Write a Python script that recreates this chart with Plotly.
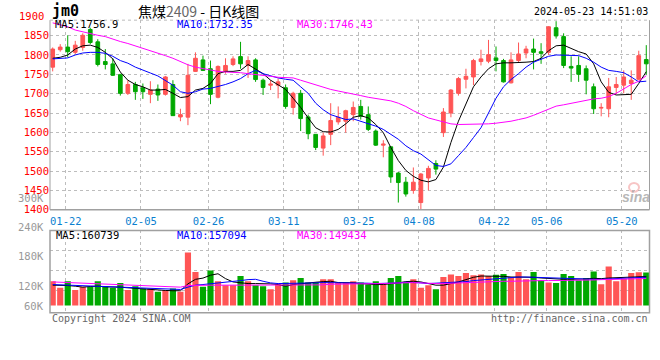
import plotly.graph_objects as go

dates = ["01-18","01-19","01-22","01-23","01-24","01-25","01-26","01-29","01-30","01-31",
         "02-01","02-02","02-05","02-06","02-07","02-08","02-19","02-20","02-21","02-22","02-23",
         "02-26","02-27","02-28","02-29","03-01","03-04","03-05","03-06","03-07","03-08",
         "03-11","03-12","03-13","03-14","03-15","03-18","03-19","03-20","03-21","03-22",
         "03-25","03-26","03-27","03-28","03-29","04-01","04-02","04-03","04-08","04-09",
         "04-10","04-11","04-12","04-15","04-16","04-17","04-18","04-19","04-22","04-23",
         "04-24","04-25","04-26","04-29","04-30","05-06","05-07","05-08","05-09","05-10",
         "05-13","05-14","05-15","05-16","05-17","05-20","05-21","05-22","05-23"]

tick_dates = ["01-22","02-05","02-26","03-11","03-25","04-08","04-22","05-06","05-20"]

opens = [1768.6,1813.6,1820.4,1806.8,1819.5,1866.0,1834.0,1783.0,1777.0,1749.0,
         1700.9,1723.7,1715.3,1698.3,1711.9,1698.3,1723.7,1639.8,1639.3,1757.6,
         1787.3,1764.4,1690.7,1757.6,1775.4,1795.8,1772.9,1787.3,1734.8,1722.0,
         1722.0,1715.3,1664.4,1700.9,1639.8,1594.9,1559.3,1594.9,1627.1,1628.8,
         1645.8,1667.0,1645.8,1603.4,1567.0,1562.7,1494.9,1471.2,1450.0,1418.6,
         1482.1,1519.5,1599.2,1650.0,1700.9,1737.3,1743.2,1783.0,1783.9,1792.4,
         1785.6,1728.0,1785.6,1805.1,1815.3,1808.5,1806.8,1870.4,1847.5,1770.4,
         1772.9,1764.4,1717.8,1662.7,1661.0,1716.1,1722.0,1726.3,1737.3,1788.2]
highs = [1819.5,1828.0,1850.9,1836.5,1856.0,1870.4,1840.7,1815.3,1791.5,1751.7,
         1734.8,1730.5,1726.3,1732.2,1723.7,1745.8,1734.8,1661.0,1777.0,1806.8,
         1798.3,1785.6,1773.0,1791.5,1796.6,1834.0,1796.6,1791.5,1739.0,1734.8,
         1739.0,1723.7,1705.0,1709.3,1645.8,1595.0,1599.2,1675.4,1667.0,1658.5,
         1679.7,1684.0,1667.0,1607.6,1579.7,1562.7,1497.5,1484.8,1509.3,1494.8,
         1513.6,1527.9,1662.7,1711.9,1743.2,1764.4,1789.9,1813.6,1839.0,1822.0,
         1789.9,1806.8,1832.2,1823.7,1842.4,1830.5,1874.6,1887.3,1856.0,1796.6,
         1796.6,1772.9,1726.3,1675.4,1740.7,1743.2,1760.2,1760.2,1811.0,1825.4]
lows = [1757.6,1808.5,1794.0,1802.6,1811.0,1828.0,1770.4,1762.7,1745.8,1695.0,
        1696.6,1684.0,1686.5,1675.4,1681.4,1695.0,1643.0,1628.8,1618.6,1756.0,
        1758.5,1672.9,1688.0,1751.7,1771.2,1764.4,1740.7,1730.5,1696.6,1709.3,
        1688.0,1661.0,1645.8,1603.4,1582.2,1554.2,1539.8,1567.0,1620.0,1599.2,
        1628.8,1633.0,1603.4,1565.0,1535.6,1469.5,1418.6,1433.9,1441.4,1400.8,
        1450.0,1490.7,1588.1,1639.0,1695.0,1713.6,1722.0,1772.9,1778.8,1757.6,
        1728.8,1726.3,1781.4,1791.5,1762.7,1777.1,1800.0,1842.4,1766.1,1730.5,
        1730.5,1698.3,1647.5,1641.5,1639.0,1698.3,1700.9,1684.0,1734.8,1749.2]
closes = [1815.3,1820.4,1808.5,1825.4,1850.9,1832.2,1775.4,1775.4,1747.5,1700.9,
          1723.7,1705.0,1705.0,1709.3,1696.6,1743.2,1643.2,1645.8,1747.5,1791.5,
          1760.2,1698.3,1770.4,1772.9,1789.9,1777.1,1785.6,1736.5,1716.1,1724.6,
          1730.5,1667.0,1700.9,1635.6,1596.6,1561.0,1590.7,1630.5,1639.0,1656.0,
          1664.4,1641.5,1607.6,1567.0,1569.5,1484.8,1470.3,1440.7,1471.2,1492.3,
          1506.8,1505.0,1652.6,1709.3,1739.0,1744.9,1785.6,1789.9,1800.9,1785.6,
          1730.5,1787.3,1802.6,1815.3,1806.8,1804.3,1872.9,1849.2,1772.9,1766.1,
          1750.0,1734.8,1661.0,1664.4,1717.8,1723.7,1743.2,1734.8,1798.3,1777.1]

ma5 = [1791.5,1794.0,1800.0,1815.3,1823.7,1825.4,1819.5,1806.8,1789.9,1756.0,
       1734.8,1723.7,1717.8,1709.3,1709.3,1711.0,1700.9,1690.0,1692.4,1709.3,
       1713.6,1726.3,1751.7,1757.6,1757.6,1760.2,1775.4,1764.4,1751.7,1734.8,
       1723.7,1711.0,1688.2,1664.4,1637.3,1611.9,1601.7,1600.9,1607.6,1622.0,
       1639.0,1643.2,1637.3,1620.3,1599.2,1561.0,1527.1,1501.7,1486.4,1476.3,
       1472.0,1478.0,1510.2,1573.7,1628.8,1675.4,1717.8,1743.2,1764.4,1777.1,
       1779.7,1779.7,1779.7,1781.4,1783.0,1791.5,1811.0,1823.7,1825.4,1817.0,
       1808.5,1802.6,1777.1,1730.5,1703.4,1696.6,1696.6,1698.3,1726.3,1756.9]
ma10 = [1789.9,1790.7,1792.4,1800.0,1805.1,1806.8,1806.8,1804.3,1796.6,1785.6,
        1778.8,1768.6,1760.2,1753.4,1745.8,1734.8,1722.0,1705.0,1700.9,1705.0,
        1711.9,1713.6,1717.8,1723.7,1730.5,1739.0,1751.7,1760.2,1751.7,1745.8,
        1740.7,1737.3,1734.8,1717.8,1700.9,1675.4,1658.5,1645.8,1639.0,1633.1,
        1634.8,1628.8,1622.0,1616.1,1607.6,1594.9,1582.2,1565.3,1552.6,1544.0,
        1528.8,1514.4,1511.9,1518.6,1539.8,1561.0,1586.5,1611.9,1650.0,1688.2,
        1717.8,1736.5,1751.7,1768.6,1781.4,1789.9,1796.6,1800.0,1800.0,1800.0,
        1798.3,1791.5,1781.4,1768.6,1760.2,1757.6,1754.2,1743.2,1730.5,1732.35]
ma30 = [1883.0,1878.8,1872.9,1864.4,1859.3,1855.1,1850.9,1847.5,1840.7,1834.8,
        1829.7,1823.7,1817.0,1811.0,1804.3,1798.3,1791.5,1783.0,1774.6,1768.6,
        1764.4,1760.2,1757.6,1756.0,1756.0,1754.2,1751.7,1750.0,1747.5,1744.9,
        1742.4,1741.5,1740.7,1734.8,1728.8,1722.0,1716.1,1711.0,1706.8,1703.4,
        1699.2,1695.0,1690.7,1688.2,1685.6,1681.4,1675.4,1667.0,1656.0,1645.8,
        1637.3,1632.2,1627.1,1622.0,1620.3,1620.3,1620.3,1620.3,1622.0,1623.7,
        1625.4,1628.8,1633.1,1637.3,1644.1,1651.7,1661.0,1667.8,1671.2,1675.4,
        1679.7,1683.1,1686.5,1688.2,1692.4,1700.9,1711.9,1723.7,1732.2,1746.43]

volume = [134500,98100,134500,85400,103600,103600,134500,107200,98100,125400,
          85400,107200,94500,94500,76300,85400,94500,76300,294400,185300,
          103600,194400,134500,112700,112700,163500,134500,112700,107200,90900,
          116300,127200,139900,152600,127200,130800,145400,145400,127200,127200,
          134500,127200,116300,134500,116300,152600,163500,130800,145400,98100,
          112700,90900,158100,172600,163500,179900,167200,172600,163500,170800,
          174400,158100,185300,145400,185300,139900,127200,125400,174400,163500,
          139900,152600,189000,118100,216200,134500,149000,180000,184000,183000]
vol_ma5 = [112700,112700,110800,107200,101800,105400,107200,103600,103600,101800,
           98100,94500,90900,87200,85400,83600,81800,81800,120000,145000,
           152000,168000,176000,149000,130800,125400,121700,121700,121700,119900,
           116300,107200,116300,121700,125400,129000,132600,134500,127200,127200,
           125400,121700,118100,116300,116300,119900,125400,132600,134500,130800,
           123600,112700,112700,119900,130800,143500,156300,163500,163500,163500,
           161700,158000,158000,158000,156300,152600,149000,145400,145400,145400,
           145400,147200,150800,149000,152600,154400,154400,156300,159900,160739]
vol_ma10 = [116300,114500,112700,112700,112700,110800,109000,107200,105400,103600,
            99900,98100,94500,92700,90900,90900,90900,89000,101800,112700,
            116300,119900,123600,127200,130800,138100,143500,145400,134500,125400,
            121700,121700,121700,121700,123600,125400,127200,127200,123600,125400,
            125400,125400,123600,121700,121700,123600,125400,129000,129000,125400,
            121700,123600,125400,127200,129000,132600,138100,141700,145400,149000,
            152600,156300,158000,158000,156300,154400,152600,150800,149000,147200,
            145400,145400,145400,145400,147200,149000,150800,152600,154400,157094]
vol_ma30 = [130800,129000,127200,125400,123600,121700,119900,118100,116300,114500,
            112700,110800,109000,107200,105400,103600,103600,101800,110800,112700,
            112700,112700,112700,112700,112700,112700,112700,112700,112700,112700,
            112700,112700,112700,112700,114500,114500,114500,118100,118100,119900,
            119900,119900,119900,121700,121700,123600,125400,127200,127200,125400,
            121700,121700,121700,123600,127200,129000,130800,130800,132600,132600,
            134500,134500,136300,136300,136300,138100,138100,138100,139900,139900,
            139900,141700,141700,143500,143500,145400,145400,147200,149000,149434]

price_ticks = [1400, 1450, 1500, 1550, 1600, 1650, 1700, 1750, 1800, 1850, 1900]
vol_tick_labels = ["300K", "240K", "180K", "120K", "60K"]

RED = "#ff5555"
GREEN = "#00a800"
W, H = 660, 360
MONO = "DejaVu Sans Mono"


def px(x):
    return x / W


def py(y):
    return 1 - y / H


# plot frame in pixels
X0, X1 = 50, 649.5
MAIN_TOP, MAIN_BOT = 20.5, 213.3
VOL_TOP, VOL_BOT = 234.3, 318.0

idx = list(range(len(dates)))
bar_colors = [RED if c >= o else GREEN for o, c in zip(opens, closes)]
tickpos = [dates.index(d) - 0.25 for d in tick_dates]

fig = go.Figure()
fig.add_trace(go.Candlestick(
    x=idx, open=opens, high=highs, low=lows, close=closes,
    increasing=dict(line=dict(color=RED, width=1), fillcolor=RED),
    decreasing=dict(line=dict(color=GREEN, width=1), fillcolor=GREEN),
    whiskerwidth=0, hoverinfo="skip", xaxis="x", yaxis="y"))
for vals, col in [(ma5, "#000000"), (ma10, "#0000ff"), (ma30, "#ff00ff")]:
    fig.add_trace(go.Scatter(x=idx, y=vals, mode="lines", line=dict(color=col, width=1),
                             hoverinfo="skip", xaxis="x", yaxis="y"))
fig.add_trace(go.Bar(x=idx, y=volume, marker=dict(color=bar_colors, line=dict(width=0)),
                     width=0.82, hoverinfo="skip", xaxis="x2", yaxis="y2"))
for vals, col in [(vol_ma5, "#000000"), (vol_ma10, "#0000ff"), (vol_ma30, "#ff00ff")]:
    fig.add_trace(go.Scatter(x=idx, y=vals, mode="lines", line=dict(color=col, width=1),
                             hoverinfo="skip", xaxis="x2", yaxis="y2"))

xr = [-0.36, 79.43]
grid = dict(showgrid=True, gridcolor="#bdbdbd", griddash="dot", gridwidth=1, zeroline=False,
            showline=False)
vpp = 5450  # volume units per pixel
fig.update_layout(
    width=W, height=H, margin=dict(l=0, r=0, t=0, b=0),
    paper_bgcolor="white", plot_bgcolor="white", showlegend=False,
    xaxis=dict(domain=[px(X0), px(X1)], range=xr, anchor="y", tickmode="array",
               tickvals=tickpos, ticktext=tick_dates, ticks="", ticklabelstandoff=4,
               tickfont=dict(family=MONO, size=10.5, color="#0a7fd0"),
               rangeslider=dict(visible=False), fixedrange=True, **grid),
    xaxis2=dict(domain=[px(X0), px(X1)], range=xr, anchor="y2", tickmode="array",
                tickvals=tickpos, showticklabels=False, ticks="", fixedrange=True, **grid),
    yaxis=dict(domain=[py(MAIN_BOT), py(MAIN_TOP)], range=[1400, 1890], tickmode="array",
               tickvals=price_ticks[:-1], ticktext=[str(v) for v in price_ticks[:-1]], ticks="",
               tickfont=dict(family=MONO, size=10.5, color="#ff0000"), fixedrange=True, **grid),
    yaxis2=dict(domain=[py(VOL_BOT), py(VOL_TOP)],
                range=[(310.7 - VOL_BOT) * vpp, (310.7 - VOL_TOP) * vpp],
                tickmode="array", tickvals=[(310.7 - g) * vpp for g in (295, 275, 255)],
                showticklabels=False, ticks="", fixedrange=True, **grid),
)

line_col = "#a0a0a0"
shapes = [
    dict(type="line", xref="paper", yref="paper", x0=px(X0), x1=px(X0), y0=py(MAIN_BOT), y1=py(MAIN_TOP),
         line=dict(color=line_col, width=1)),
    dict(type="line", xref="paper", yref="paper", x0=px(X1), x1=px(X1), y0=py(MAIN_BOT), y1=py(MAIN_TOP),
         line=dict(color=line_col, width=1)),
    dict(type="line", xref="paper", yref="paper", x0=px(X0), x1=px(X1), y0=py(MAIN_BOT), y1=py(MAIN_BOT),
         line=dict(color=line_col, width=1.5)),
    dict(type="line", xref="paper", yref="paper", x0=px(X0), x1=px(X1), y0=py(MAIN_TOP), y1=py(MAIN_TOP),
         line=dict(color="#bdbdbd", width=1, dash="dot")),
    dict(type="rect", xref="paper", yref="paper", x0=px(X0), x1=px(X1), y0=py(VOL_BOT), y1=py(VOL_TOP),
         line=dict(color=line_col, width=1.5)),
    # pinkish "eye" of the sina watermark
    dict(type="circle", xref="paper", yref="paper", x0=px(629), x1=px(639), y0=py(195), y1=py(186),
         line=dict(color="rgba(240,150,150,0.55)", width=2), fillcolor="rgba(255,255,255,0)"),
]
fig.update_layout(shapes=shapes)


def ann(text, x, y, color="#000000", size=10.5, xanchor="left", family=MONO):
    fig.add_annotation(text=text, x=px(x), y=py(y), xref="paper", yref="paper",
                       xanchor=xanchor, yanchor="middle", showarrow=False,
                       font=dict(family=family, size=size, color=color))


ann("<b>jm0</b>", 50, 11.5, size=15)
ann("焦煤<span style='color:#666666'>2409</span> - 日K线图", 136, 11.5, size=14,
    family="Noto Sans CJK SC")
ann("2024-05-23 14:51:03", 649.5, 12, size=10, xanchor="right")
ann("1900", 46, 16, color="#ff0000", xanchor="right")

ann("MA5:1756.9", 53, 24.5, color="#000000")
ann("MA10:1732.35", 175, 24.5, color="#0000ff")
ann("MA30:1746.43", 295, 24.5, color="#ff00ff")

ann("MA5:160739", 54, 238.5, color="#000000")
ann("MA10:157094", 175, 238.5, color="#0000ff")
ann("MA30:149434", 295, 238.5, color="#ff00ff")

for lab, yy in zip(vol_tick_labels, [201.5, 230.5, 260.7, 290.7, 310.7]):
    ann(lab, 46, yy, color="#999999", xanchor="right")

ann("Copyright 2024 SINA.COM", 49.5, 323.7, color="#666666", size=10)
ann("http://finance.sina.com.cn", 649.5, 323.7, color="#666666", size=10, xanchor="right")
ann("<b><i>sina</i></b>", 636, 200, color="rgba(165,165,165,0.8)", size=14, xanchor="center",
    family="Liberation Sans")

fig.write_html("out.html", config={"displayModeBar": False, "staticPlot": True},
               post_script="document.body.style.margin='0';document.body.style.overflow='hidden';")
